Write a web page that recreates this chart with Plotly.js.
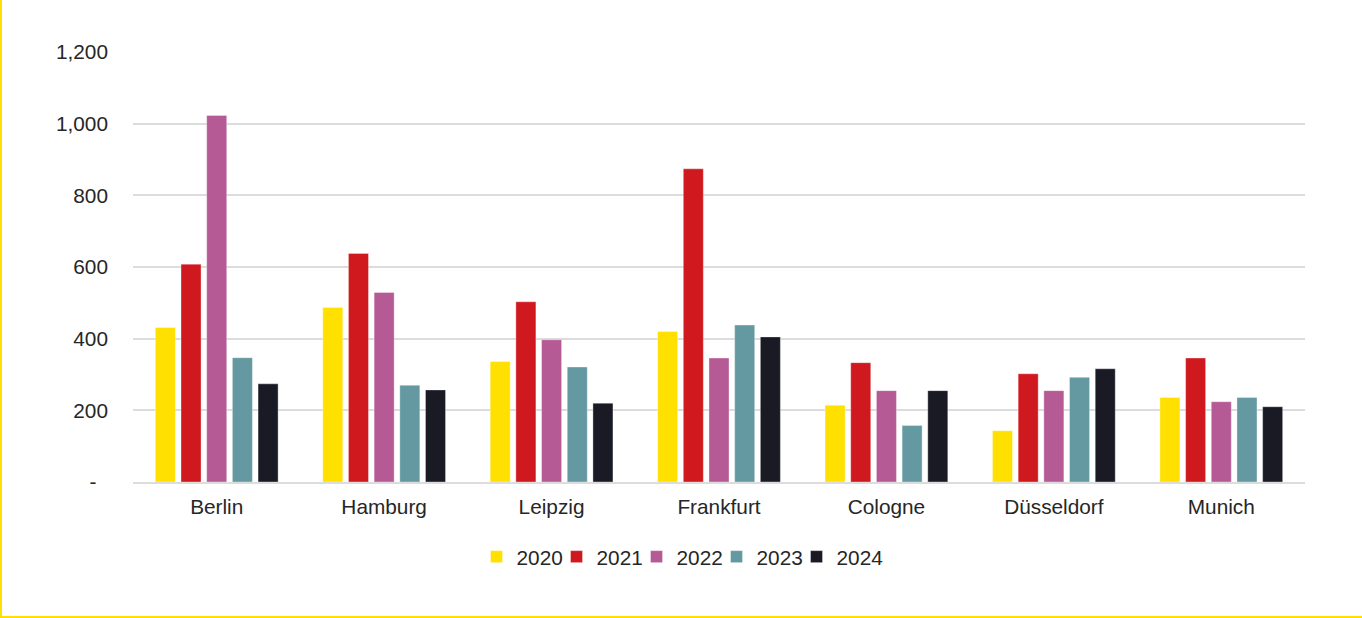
<!DOCTYPE html>
<html>
<head>
<meta charset="utf-8">
<script src="https://cdn.plot.ly/plotly-3.0.1.min.js"></script>
<style>
  html, body { margin: 0; padding: 0; background: #fff; }
  #wrap { width: 1362px; height: 618px; box-sizing: border-box; border-left: 2px solid #FFE000; border-bottom: 2px solid #FFE000; position: relative; }
  #chart { position: absolute; left: 0; top: 0; width: 1360px; height: 616px; }
</style>
</head>
<body>
<div id="wrap"><div id="chart"></div></div>
<script>
const cities = ["Berlin", "Hamburg", "Leipzig", "Frankfurt", "Cologne", "Düsseldorf", "Munich"];
const years = ["2020", "2021", "2022", "2023", "2024"];
const v2020 = [431, 487, 336, 420, 214, 143, 236];
const v2021 = [608, 638, 503, 874, 333, 302, 346];
const v2022 = [1023, 529, 397, 346, 255, 255, 224];
const v2023 = [347, 270, 321, 438, 158, 292, 236];
const v2024 = [274, 257, 220, 405, 255, 316, 210];
const yTickVals = [0, 200, 400, 600, 800, 1000, 1200];
const yTickText = ["-\u00a0\u00a0", "200", "400", "600", "800", "1,000", "1,200"];
const colors = ["#FFE000", "#D0191F", "#B55A95", "#6499A1", "#1A1A25"];

const series = [v2020, v2021, v2022, v2023, v2024];
const traces = series.map((vals, i) => ({
  type: "bar",
  name: years[i],
  x: cities,
  y: vals,
  marker: { color: colors[i], line: { width: 1, color: "rgba(255,255,255,0.35)" } },
  hoverinfo: "x+y+name"
}));

const font = { family: "Liberation Sans, Arial, sans-serif", size: 20.8, color: "#262626" };

const layout = {
  width: 1360, height: 616,
  margin: { l: 131, r: 57, t: 52, b: 133.5 },
  paper_bgcolor: "#ffffff",
  plot_bgcolor: "#ffffff",
  font: font,
  barmode: "group",
  bargap: 0.233,
  bargroupgap: 0.22,
  showlegend: true,
  legend: {
    orientation: "h",
    x: 0.2931, xanchor: "left",
    y: -0.1747, yanchor: "middle",
    entrywidth: 35, entrywidthmode: "pixels",
    font: font,
    bgcolor: "rgba(0,0,0,0)"
  },
  xaxis: {
    type: "category",
    showgrid: false,
    showline: true, linecolor: "#DCDCDC", linewidth: 2,
    ticks: "", ticklabelstandoff: 5,
    tickfont: font,
    fixedrange: true
  },
  yaxis: {
    range: [0, 1200],
    tickvals: yTickVals,
    ticktext: yTickText,
    showgrid: true, gridcolor: "#DCDCDC", gridwidth: 2,
    zeroline: false, showline: false,
    ticks: "", ticklabelstandoff: 24,
    tickfont: font,
    fixedrange: true
  }
};

function unclipLegend(gd) {
  gd.querySelectorAll(".legend [clip-path]").forEach(el => el.removeAttribute("clip-path"));
}

Plotly.newPlot("chart", traces, layout, { displayModeBar: false, staticPlot: true })
  .then(gd => unclipLegend(gd));
</script>
</body>
</html>
